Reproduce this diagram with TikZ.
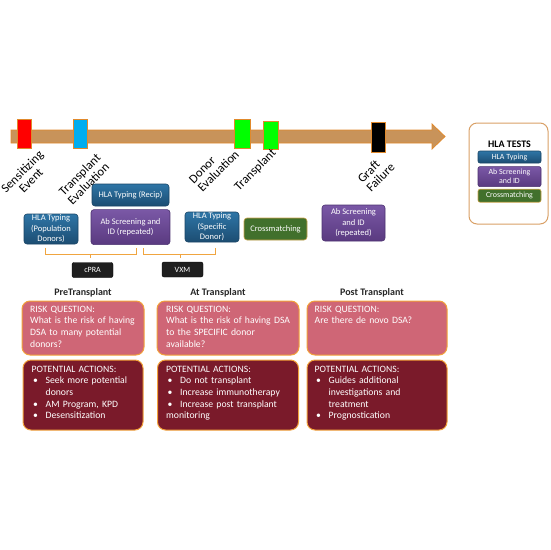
\documentclass[tikz,border=0pt]{standalone}
\usepackage{fontspec}
\setmainfont{Carlito}
\usetikzlibrary{positioning}

\definecolor{barfill}{HTML}{C8935A}
\definecolor{baredge}{HTML}{E0892C}
\definecolor{typingtop}{HTML}{2E75A6}
\definecolor{typingbot}{HTML}{1C4D72}
\definecolor{typingedge}{HTML}{1A4565}
\definecolor{screentop}{HTML}{7A58A6}
\definecolor{screenbot}{HTML}{5A3A80}
\definecolor{screenedge}{HTML}{4C3270}
\definecolor{matchfill}{HTML}{41702C}
\definecolor{matchedge}{HTML}{C9A24A}
\definecolor{bracecol}{HTML}{F0A540}
\definecolor{riskfill}{HTML}{CF6676}
\definecolor{actfill}{HTML}{7A1A2A}
\definecolor{riskedge}{HTML}{F2A23A}
\definecolor{keyedge}{HTML}{D9A066}

\newcommand{\bulletitem}[1]{\par\hangindent=14pt\hangafter=1\noindent\makebox[14pt][l]{\hspace{1.5pt}\textbullet}#1}

\tikzset{
    milestone/.style={draw=baredge, line width=0.8pt, minimum width=14pt, minimum height=29pt, inner sep=0pt},
    eventlabel/.style={rotate=45, inner sep=0pt, font=\fontsize{12.5}{12.5}\selectfont},
    hlabox/.style={rounded corners=3pt, line width=0.6pt, text=white, align=center, inner sep=0pt, font=\fontsize{8.5}{10.5}\selectfont},
    typingbox/.style={hlabox, top color=typingtop, bottom color=typingbot, draw=typingedge},
    screenbox/.style={hlabox, top color=screentop, bottom color=screenbot, draw=screenedge},
    matchbox/.style={hlabox, fill=matchfill, draw=matchedge},
    resultbox/.style={fill=black!88, draw=black, text=white, rounded corners=2pt, inner sep=0pt, minimum width=41pt, minimum height=15pt, font=\fontsize{8}{9}\selectfont},
    bracketline/.style={draw=bracecol, line width=1pt},
    phasehead/.style={inner sep=0pt, text=black!85, font=\bfseries\fontsize{10}{12}\selectfont},
    riskbox/.style={fill=riskfill, draw=riskedge, line width=1pt, rounded corners=8pt, minimum height=54pt, inner sep=0pt},
    actionbox/.style={fill=actfill, draw=riskedge, line width=1pt, rounded corners=8pt, minimum height=70pt, inner sep=0pt},
    boxtext/.style={anchor=north west, text=white, text width=132pt, align=left, inner sep=0pt, font=\fontsize{9.7}{11.7}\selectfont},
    keybox/.style={minimum width=63pt, rounded corners=2pt, font=\fontsize{7.9}{9.3}\selectfont},
}

\begin{document}
\begin{tikzpicture}[x=1pt, y=-1pt]
    \useasboundingbox (0,0) rectangle (550,550);

    \filldraw [fill=barfill, draw=baredge, line width=0.8pt]
        (11,130) -- (432,130) -- (432,124) -- (445,136.5) -- (432,149) -- (432,143) -- (11,143) -- cycle;

    \node [milestone, fill=red] (sens) at (24,133.5) {};
    \node [milestone, fill=cyan] (teval) at (80,133.5) {};
    \node [milestone, fill=green, minimum width=16pt] (deval) at (242,133.5) {};
    \node [milestone, fill=green, minimum width=15pt, minimum height=28pt] (tx) at (270.5,135) {};
    \node [milestone, fill=black, minimum height=30pt] (graft) at (378,137) {};

    \node [eventlabel, align=center] (senslabel) at (26.5,176) {Sensitizing\\Event};
    \node [eventlabel, align=left] (tevallabel) at (84,179) {Transplant\\Evaluation};
    \node [eventlabel, align=left] (devallabel) at (214,167) {Donor\\Evaluation};
    \node [eventlabel] (txlabel) at (255.5,170) {Transplant};
    \node [eventlabel, align=left] (graftlabel) at (376,173) {Graft\\Failure};

    \node [typingbox, minimum width=77pt, minimum height=22pt] (recip) at (130.5,195) {HLA Typing (Recip)};
    \node [screenbox, minimum width=79pt, minimum height=35pt, below=3pt of recip] (abrepeat) {Ab Screening and\\ID (repeated)};
    \node [typingbox, minimum width=54pt, minimum height=30pt] (popdonor) at (51,229) {HLA Typing\\(Population\\Donors)};
    \node [typingbox, minimum width=54pt, minimum height=30pt] (specdonor) at (212,227) {HLA Typing\\(Specific\\Donor)};
    \node [matchbox, minimum width=63pt, minimum height=22pt] (xmatch) at (275.5,229) {Crossmatching};
    \node [screenbox, minimum width=63pt, minimum height=36pt] (abpost) at (353.5,223) {Ab Screening\\and ID\\(repeated)};

    \draw [bracketline]
        (45,248) -- (45,254) -- (136,254) -- (136,248);
    \draw [bracketline]
        (90,254) -- (90,257.5);
    \draw [bracketline]
        (143,248) -- (143,254) -- (215,254) -- (215,248);
    \draw [bracketline]
        (180,254) -- (180,257.5);

    \node [resultbox] (cpra) at (92.5,270) {cPRA};
    \node [resultbox] (vxm) at (182.5,269.5) {VXM};

    \node [riskbox, minimum width=122pt] (riskpre) at (83,328) {};
    \node [riskbox, minimum width=142pt] (riskat) at (228,328) {};
    \node [riskbox, minimum width=140pt] (riskpost) at (377,328) {};

    \node [phasehead, above=3pt of riskpre] (pre) {PreTransplant};
    \node [phasehead, above=3pt of riskat, xshift=-10pt] (at) {At Transplant};
    \node [phasehead, above=3pt of riskpost, xshift=-5pt] (post) {Post Transplant};

    \node [actionbox, minimum width=120pt, below=4pt of riskpre] (actpre) {};
    \node [actionbox, minimum width=141pt, below=4pt of riskat] (actat) {};
    \node [actionbox, minimum width=140pt, below=4pt of riskpost] (actpost) {};

    \node [boxtext] (riskpretext) at ([shift={(8.5,5)}]riskpre.north west)
        {RISK QUESTION:\\What is the risk of having\\DSA to many potential\\donors?};
    \node [boxtext] (riskattext) at ([shift={(9.5,5)}]riskat.north west)
        {RISK QUESTION:\\What is the risk of having DSA\\to the SPECIFIC donor\\available?};
    \node [boxtext] (riskposttext) at ([shift={(8,5)}]riskpost.north west)
        {RISK QUESTION:\\Are there de novo DSA?};

    \node [boxtext] (actpretext) at ([shift={(9,6)}]actpre.north west)
        {POTENTIAL ACTIONS:\bulletitem{Seek more potential\newline donors}\bulletitem{AM Program, KPD}\bulletitem{Desensitization}};
    \node [boxtext] (actattext) at ([shift={(9,6)}]actat.north west)
        {POTENTIAL ACTIONS:\bulletitem{Do not transplant}\bulletitem{Increase immunotherapy}\bulletitem{Increase post transplant\newline monitoring}};
    \node [boxtext] (actposttext) at ([shift={(8,6)}]actpost.north west)
        {POTENTIAL ACTIONS:\bulletitem{Guides additional\newline investigations and\newline treatment}\bulletitem{Prognostication}};

    \node [draw=keyedge, line width=1pt, fill=white, rounded corners=8pt, minimum width=79pt, minimum height=101pt] (legend) at (508.5,173.5) {};
    \node [inner sep=0pt, font=\bfseries\fontsize{10}{11}\selectfont] (legendtitle) at (509.5,144) {HLA TESTS};
    \node [typingbox, keybox, minimum height=12pt] (keytyping) at (509.5,157) {HLA Typing};
    \node [screenbox, keybox, minimum height=20pt, below=3pt of keytyping] (keyscreen) {Ab Screening\\and ID};
    \node [matchbox, keybox, minimum height=13pt, below=2pt of keyscreen] (keymatch) {Crossmatching};
\end{tikzpicture}
\end{document}
